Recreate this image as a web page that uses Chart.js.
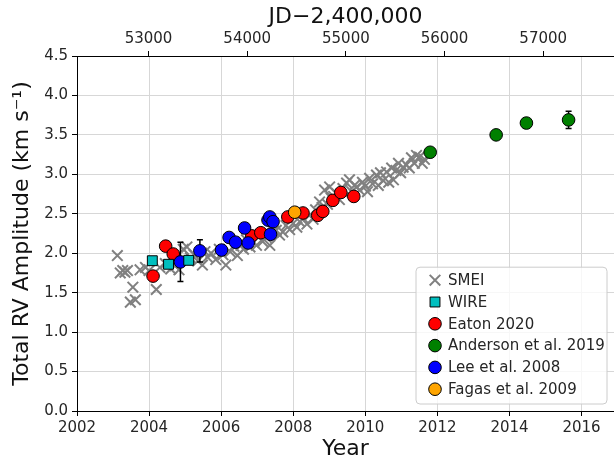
<!DOCTYPE html>
<html>
<head>
<meta charset="utf-8">
<script src="https://cdn.jsdelivr.net/npm/chart.js@4.4.1/dist/chart.umd.min.js"></script>
<style>
  html, body { margin: 0; padding: 0; background: #fff; }
  canvas { display: block; }
</style>
</head>
<body>
<canvas id="rv" width="614" height="460"></canvas>
<script>
// ---- Observed total RV amplitudes (km/s) by epoch (decimal year) ----
const smeiYear = [
  2003.12, 2003.20, 2003.27, 2003.33, 2003.40, 2003.48, 2003.55, 2003.62, 2003.75, 2003.90,
  2004.00, 2004.20, 2004.30, 2004.45, 2004.60, 2004.72, 2004.83, 2004.95, 2005.05, 2005.15,
  2005.25, 2005.35, 2005.48, 2005.55, 2005.62, 2005.72, 2005.85, 2005.95, 2006.05, 2006.13,
  2006.25, 2006.35, 2006.45, 2006.55, 2006.62, 2006.70, 2006.80, 2006.90, 2006.98, 2007.05,
  2007.15, 2007.25, 2007.35, 2007.45, 2007.53, 2007.62, 2007.71, 2007.80, 2007.90, 2008.00,
  2008.10, 2008.18, 2008.28, 2008.38, 2008.45, 2008.55, 2008.62, 2008.73, 2008.80, 2008.87,
  2008.95, 2009.01, 2009.05, 2009.12, 2009.20, 2009.28, 2009.38, 2009.48, 2009.56, 2009.62,
  2009.70, 2009.76, 2009.84, 2009.92, 2010.00, 2010.06, 2010.12, 2010.20, 2010.31, 2010.36,
  2010.42, 2010.50, 2010.59, 2010.65, 2010.73, 2010.78, 2010.85, 2010.92, 2010.98, 2011.05,
  2011.14, 2011.22, 2011.28, 2011.36, 2011.42, 2011.50, 2011.58, 2011.64
];
const smeiAmp = [
  1.97, 1.75, 1.78, 1.76, 1.78, 1.38, 1.57, 1.41, 1.79, 1.82,
  1.78, 1.54, 1.82, 1.87, 1.80, 1.84, 1.79, 2.05, 2.08, 1.94,
  1.98, 1.90, 1.85, 2.02, 1.95, 2.00, 1.92, 2.05, 1.98, 1.85,
  2.02, 2.09, 1.97, 2.10, 2.05, 2.17, 2.08, 2.14, 2.10, 2.22,
  2.15, 2.20, 2.10, 2.28, 2.29, 2.23, 2.27, 2.35, 2.30, 2.38,
  2.33, 2.40, 2.44, 2.37, 2.48, 2.43, 2.55, 2.65, 2.58, 2.80,
  2.62, 2.84, 2.70, 2.72, 2.76, 2.68, 2.82, 2.89, 2.93, 2.78,
  2.86, 2.84, 2.80, 2.90, 2.85, 2.78, 2.95, 2.88, 2.99, 2.86,
  3.02, 2.92, 3.03, 2.90, 3.08, 2.93, 3.05, 3.14, 3.02, 3.09,
  3.12, 3.08, 3.21, 3.14, 3.24, 3.22, 3.14, 3.19
];

const wireYear = [2004.09, 2004.54, 2005.10];
const wireAmp  = [1.905, 1.86, 1.91];

const eatonYear = [2004.11, 2004.46, 2004.67, 2006.85, 2007.10, 2007.85, 2008.27, 2008.68, 2008.82, 2009.10, 2009.32, 2009.68];
const eatonAmp  = [1.71, 2.09, 1.99, 2.22, 2.26, 2.46, 2.51, 2.48, 2.53, 2.67, 2.77, 2.72];

const andersonYear = [2011.80, 2013.63, 2014.47, 2015.64];
const andersonAmp  = [3.28, 3.50, 3.65, 3.69];
const andersonErr  = [0, 0, 0, 0.11];

const leeYear = [2004.87, 2005.41, 2006.01, 2006.22, 2006.40, 2006.65, 2006.75, 2007.30, 2007.35, 2007.44, 2007.37];
const leeAmp  = [1.89, 2.03, 2.04, 2.20, 2.14, 2.32, 2.13, 2.42, 2.46, 2.40, 2.24];
const leeErr  = [0.25, 0.14, 0, 0, 0, 0, 0, 0, 0, 0, 0];

const fagasYear = [2008.04];
const fagasAmp  = [2.52];

// axis ranges and tick labels
const yearMin = 2002, yearMax = 2016.9;
const yearTicks = [2002, 2004, 2006, 2008, 2010, 2012, 2014, 2016];
const ampMin = 0, ampMax = 4.5;
const ampTicks = [0.0, 0.5, 1.0, 1.5, 2.0, 2.5, 3.0, 3.5, 4.0, 4.5];
const jdTicks = [53000, 54000, 55000, 56000, 57000];

// decimal year -> JD - 2,400,000 (J2000.0 = 51544.5)
function yearToJD(y) { return 51544.5 + (y - 2000) * 365.25; }

function pts(xs, ys) { return xs.map((x, i) => ({ x: x, y: ys[i] })); }
function fixedTicks(values) { return s => { s.ticks = values.map(v => ({ value: v })); }; }

const FONT = '"DejaVu Sans", "Liberation Sans", sans-serif';
const TXT = '#262626';
const GRID = '#d7d7d7';
const TICK_FONT = { family: FONT, size: 15 };
const TITLE_FONT = { family: FONT, size: 22, lineHeight: 1 };

const datasets = [
  { label: 'SMEI', data: pts(smeiYear, smeiAmp), pointStyle: 'crossRot', pointRadius: 7.5,
    borderColor: '#808080', backgroundColor: '#808080', borderWidth: 2, order: 6 },
  { label: 'WIRE', data: pts(wireYear, wireAmp), pointStyle: 'rect', pointRadius: 7,
    backgroundColor: '#00bfbf', borderColor: '#000', borderWidth: 1, order: 1 },
  { label: 'Eaton 2020', data: pts(eatonYear, eatonAmp), pointStyle: 'circle', pointRadius: 6.3,
    backgroundColor: '#ff0000', borderColor: '#000', borderWidth: 1, order: 5 },
  { label: 'Anderson et al. 2019', data: pts(andersonYear, andersonAmp), errors: andersonErr, pointStyle: 'circle', pointRadius: 6.3,
    backgroundColor: '#008000', borderColor: '#000', borderWidth: 1, order: 4 },
  { label: 'Lee et al. 2008', data: pts(leeYear, leeAmp), errors: leeErr, pointStyle: 'circle', pointRadius: 6.3,
    backgroundColor: '#0000ff', borderColor: '#000', borderWidth: 1, order: 3 },
  { label: 'Fagas et al. 2009', data: pts(fagasYear, fagasAmp), pointStyle: 'circle', pointRadius: 6.3,
    backgroundColor: '#ffa500', borderColor: '#000', borderWidth: 1, order: 2 }
];

// vertical error bars, drawn just under each dataset's own markers
const errorBars = {
  id: 'errorBars',
  beforeDatasetDraw(chart, args) {
    const ds = chart.data.datasets[args.index];
    if (!ds.errors) return;
    const { ctx } = chart;
    const xs = chart.scales.x, ys = chart.scales.y;
    ctx.save();
    ctx.strokeStyle = '#000';
    ctx.lineWidth = 1.5;
    ds.data.forEach((p, i) => {
      const e = ds.errors[i];
      if (!e) return;
      const px = xs.getPixelForValue(p.x);
      const top = ys.getPixelForValue(p.y + e);
      const bot = ys.getPixelForValue(p.y - e);
      ctx.beginPath();
      ctx.moveTo(px, top); ctx.lineTo(px, bot);
      ctx.moveTo(px - 3, top); ctx.lineTo(px + 3, top);
      ctx.moveTo(px - 3, bot); ctx.lineTo(px + 3, bot);
      ctx.stroke();
    });
    ctx.restore();
  }
};

function drawMarker(ctx, ds, x, y) {
  const r = ds.pointRadius;
  ctx.save();
  ctx.lineWidth = ds.borderWidth;
  ctx.strokeStyle = ds.borderColor;
  ctx.fillStyle = ds.backgroundColor;
  ctx.beginPath();
  if (ds.pointStyle === 'crossRot') {
    const d = r * Math.SQRT1_2;
    ctx.moveTo(x - d, y - d); ctx.lineTo(x + d, y + d);
    ctx.moveTo(x - d, y + d); ctx.lineTo(x + d, y - d);
    ctx.stroke();
  } else if (ds.pointStyle === 'rect') {
    const d = r * Math.SQRT1_2;
    ctx.rect(x - d, y - d, 2 * d, 2 * d);
    ctx.fill(); ctx.stroke();
  } else {
    ctx.arc(x, y, r, 0, Math.PI * 2);
    ctx.fill(); ctx.stroke();
  }
  ctx.restore();
}

// legend boxed in the lower-right corner of the plot area
const insetLegend = {
  id: 'insetLegend',
  afterDraw(chart) {
    const { ctx, chartArea } = chart;
    const w = 191, rowH = 21.8, n = chart.data.datasets.length;
    const h = rowH * n + 6;
    const x0 = chartArea.right - 7 - w;
    const y0 = chartArea.bottom - 7 - h;
    ctx.save();
    ctx.beginPath();
    if (ctx.roundRect) ctx.roundRect(x0, y0, w, h, 4); else ctx.rect(x0, y0, w, h);
    ctx.fillStyle = 'rgba(255,255,255,0.8)';
    ctx.fill();
    ctx.strokeStyle = '#cccccc';
    ctx.lineWidth = 1;
    ctx.stroke();
    ctx.font = '15px ' + FONT;
    ctx.textBaseline = 'middle';
    ctx.textAlign = 'left';
    chart.data.datasets.forEach((ds, i) => {
      const cy = y0 + 13 + i * rowH;
      drawMarker(ctx, ds, x0 + 19, cy);
      ctx.fillStyle = TXT;
      ctx.fillText(ds.label, x0 + 32, cy + 1);
    });
    ctx.restore();
  }
};

new Chart(document.getElementById('rv'), {
  type: 'scatter',
  data: { datasets: datasets },
  plugins: [errorBars, insetLegend],
  options: {
    responsive: false,
    animation: false,
    events: [],
    layout: { padding: 0, autoPadding: false },
    plugins: { legend: { display: false }, tooltip: { enabled: false } },
    scales: {
      x: {
        type: 'linear', position: 'bottom', min: yearMin, max: yearMax,
        afterBuildTicks: fixedTicks(yearTicks),
        ticks: { callback: v => String(v), font: TICK_FONT, color: TXT, padding: 3, maxRotation: 0, autoSkip: false },
        grid: { color: GRID, tickColor: '#000', tickLength: 5 },
        border: { color: '#000', width: 1 },
        title: { display: true, text: 'Year', font: TITLE_FONT, color: '#111', padding: { top: 0, bottom: 0 } },
        afterFit: s => { s.height = 49; s.paddingLeft = 0; s.paddingRight = 0; }
      },
      x2: {
        type: 'linear', position: 'top', min: yearToJD(yearMin), max: yearToJD(yearMax),
        afterBuildTicks: fixedTicks(jdTicks),
        ticks: { callback: v => String(v), font: TICK_FONT, color: TXT, padding: 3, maxRotation: 0, autoSkip: false },
        grid: { drawOnChartArea: false, tickColor: '#000', tickLength: 5 },
        border: { color: '#000', width: 1 },
        title: { display: true, text: 'JD\u22122,400,000', font: TITLE_FONT, color: '#111', padding: { top: 6, bottom: 0 } },
        afterFit: s => { s.height = 56; s.paddingLeft = 0; s.paddingRight = 0; }
      },
      y: {
        type: 'linear', position: 'left', min: ampMin, max: ampMax,
        afterBuildTicks: fixedTicks(ampTicks),
        ticks: { callback: v => v.toFixed(1), font: TICK_FONT, color: TXT, padding: 4, autoSkip: false },
        grid: { color: GRID, tickColor: '#000', tickLength: 5 },
        border: { color: '#000', width: 1 },
        title: { display: true, text: 'Total RV Amplitude (km s\u207B\u00B9)', font: TITLE_FONT, color: '#111', padding: { top: 11, bottom: 0 } },
        afterFit: s => { s.width = 77; s.paddingTop = 0; s.paddingBottom = 0; }
      }
    }
  }
});
</script>
</body>
</html>
